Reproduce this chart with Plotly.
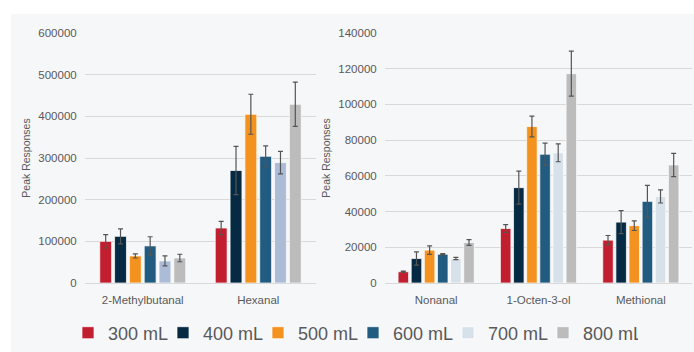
import plotly.graph_objects as go

W, H = 694, 352

volumes = ["300 mL", "400 mL", "500 mL", "600 mL", "700 mL", "800 mL"]
colors = ["#c11f30", "#062a44", "#f4921f", "#215b80", "#d6e1ea", "#bcbcbc"]
colors_left = ["#c11f30", "#062a44", "#f4921f", "#215b80", "#acbcd7", "#bcbcbc"]

left_cats = ["2-Methylbutanal", "Hexanal"]
left_vals = {
    "300 mL": [100000, 132000],
    "400 mL": [112000, 270000],
    "500 mL": [65000, 405000],
    "600 mL": [89000, 304000],
    "700 mL": [53000, 289000],
    "800 mL": [60000, 429000],
}
left_err = {
    "300 mL": [16000, 16000],
    "400 mL": [18000, 58000],
    "500 mL": [5000, 48000],
    "600 mL": [22000, 25000],
    "700 mL": [12000, 27000],
    "800 mL": [9000, 53000],
}

right_cats = ["Nonanal", "1-Octen-3-ol", "Methional"]
right_vals = {
    "300 mL": [6300, 30500, 24000],
    "400 mL": [13700, 53400, 34100],
    "500 mL": [18400, 87600, 32100],
    "600 mL": [16100, 72100, 45700],
    "700 mL": [13700, 72900, 48500],
    "800 mL": [22700, 117200, 66100],
}
right_err = {
    "300 mL": [300, 2200, 2600],
    "400 mL": [3700, 9200, 6400],
    "500 mL": [2400, 5800, 2700],
    "600 mL": [400, 6200, 9000],
    "700 mL": [600, 5000, 3700],
    "800 mL": [1600, 12600, 6500],
}

TXT = "#595959"
GRID = "#d9d9d9"
BG = "#f6f7f9"

fig = go.Figure()
for i, v in enumerate(volumes):
    fig.add_trace(go.Bar(
        x=left_cats, y=left_vals[v], name=v, xaxis="x", yaxis="y",
        marker=dict(color=colors_left[i], line=dict(color="rgba(255,255,255,0.7)", width=1)),
        error_y=dict(type="data", array=left_err[v], color="#555555", thickness=1.2, width=2.5),
        showlegend=False, legendgroup=v,
    ))
for i, v in enumerate(volumes):
    fig.add_trace(go.Bar(
        x=right_cats, y=right_vals[v], name=v, xaxis="x2", yaxis="y2",
        marker=dict(color=colors[i], line=dict(color="rgba(255,255,255,0.7)", width=1)),
        error_y=dict(type="data", array=right_err[v], color="#555555", thickness=1.2, width=2.5),
        showlegend=True, legendgroup=v,
    ))

y0 = (H - 283) / H
y1 = (H - 33) / H

FONT = "Arial, Liberation Sans, sans-serif"
axis_common = dict(showgrid=True, gridcolor=GRID, gridwidth=1, zeroline=True,
                   zerolinecolor=GRID, zerolinewidth=1, showline=False, tickformat="d",
                   tickfont=dict(family=FONT, size=11.5, color=TXT), automargin=False,
                   ticks="outside", ticklen=5, tickcolor="rgba(0,0,0,0)")
xcommon = dict(showgrid=False, zeroline=False, showline=False, ticks="outside", ticklen=6,
               tickcolor="rgba(0,0,0,0)", automargin=False,
               tickfont=dict(family=FONT, size=11.5, color=TXT))

fig.update_layout(
    width=W, height=H,
    margin=dict(l=0, r=0, t=0, b=0),
    paper_bgcolor="white",
    plot_bgcolor=BG,
    hovermode=False,
    barmode="group", bargap=0.23, bargroupgap=0.2,
    font=dict(family=FONT, color=TXT),
    xaxis=dict(domain=[85 / W, 316 / W], anchor="y", **xcommon),
    xaxis2=dict(domain=[385 / W, 692 / W], anchor="y2", **xcommon),
    yaxis=dict(domain=[y0, y1], anchor="x", range=[0, 600000], dtick=100000,
               title=dict(text="Peak Responses", font=dict(size=10.5, color=TXT), standoff=5),
               **axis_common),
    yaxis2=dict(domain=[y0, y1], anchor="x2", range=[0, 140000], dtick=20000,
                title=dict(text="Peak Responses", font=dict(size=10.5, color=TXT), standoff=5),
                **axis_common),
    legend=dict(orientation="h", x=68 / W, xanchor="left", y=19 / H, yanchor="middle",
                font=dict(size=18, color=TXT), bgcolor="rgba(0,0,0,0)",
                entrywidth=50, entrywidthmode="pixels", traceorder="normal"),
    shapes=[dict(type="rect", xref="paper", yref="paper", x0=11 / W, x1=1, y0=0, y1=1 - 14 / H,
                 fillcolor=BG, line=dict(width=0), layer="below")],
)

fig.write_html(
    "out.html",
    config={"displayModeBar": False, "staticPlot": True},
    post_script="document.documentElement.style.margin='0';document.body.style.margin='0';"
                "document.documentElement.style.overflow='hidden';document.body.style.overflow='hidden';",
)
